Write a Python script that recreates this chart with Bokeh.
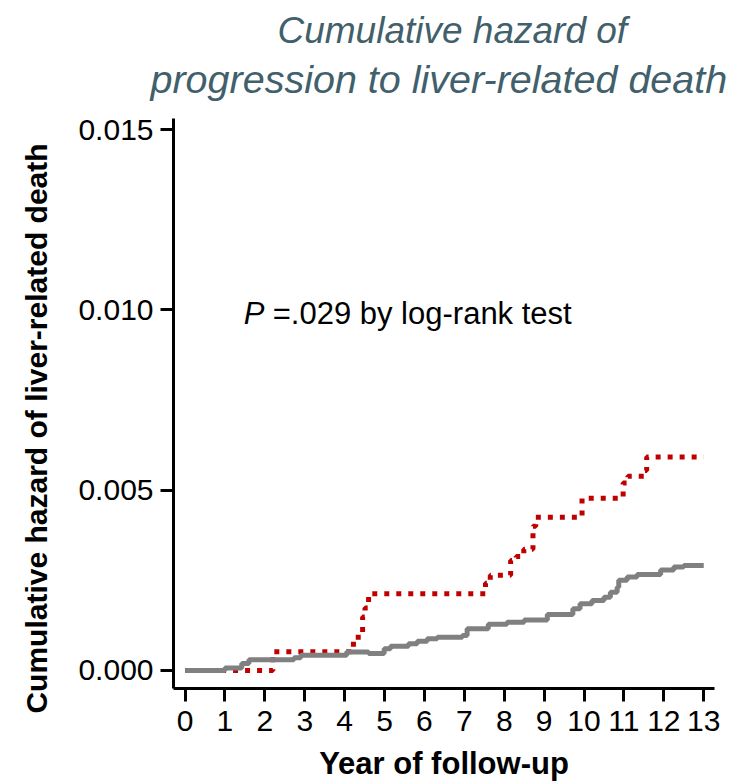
from bokeh.plotting import figure
from bokeh.models import Range1d, Label, FixedTicker, Title
from bokeh.embed import file_html
from bokeh.resources import INLINE

# ---- data ----
years_ticks = list(range(0, 14))
haz_ticks = [0.0, 0.005, 0.010, 0.015]

# grey group (step starts, value after step)
grey_t = [0.0, 1.0, 1.42, 1.6, 2.73, 2.9, 4.05, 4.6, 4.99, 5.15, 5.6, 5.82, 6.07, 6.32,
          6.95, 7.07, 7.6, 8.07, 8.5, 9.08, 9.72, 9.9, 10.2, 10.5, 10.66, 10.83, 10.87,
          11.08, 11.33, 11.92, 12.25, 12.5, 13.0]
grey_v = [0.0, 0.00007, 0.00019, 0.0003, 0.00035, 0.00042, 0.00051, 0.00047, 0.0006,
          0.00067, 0.00074, 0.00081, 0.00088, 0.00092, 0.00097, 0.00116, 0.00128,
          0.00134, 0.0014, 0.00155, 0.00171, 0.00185, 0.00194, 0.00203, 0.00217,
          0.00231, 0.0025, 0.00259, 0.00266, 0.00279, 0.00287, 0.00291, 0.00291]

# red group
red_t = [0.0, 2.2, 4.22, 4.34, 4.45, 4.51, 4.6, 7.53, 7.65, 8.16, 8.3, 8.49, 8.72, 8.79,
         9.95, 10.98, 11.1, 11.5, 11.57, 13.0]
red_v = [0.0, 0.00052, 0.00081, 0.00104, 0.00148, 0.00173, 0.00213, 0.00242, 0.00264,
         0.00305, 0.00316, 0.00336, 0.0040, 0.00425, 0.00478, 0.0052, 0.00539, 0.00555,
         0.00592, 0.00592]

title_1 = "Cumulative hazard of"
title_2 = "progression to liver-related death"
x_title = "Year of follow-up"
y_title = "Cumulative hazard of liver-related death"
p_italic = "P"
p_rest = "=.029 by log-rank test"

FONT = "Liberation Sans"
title_color = "#41606b"

p = figure(width=740, height=783, output_backend="svg", toolbar_location=None,
           x_range=Range1d(-0.29, 13.27), y_range=Range1d(-0.0005, 0.01531),
           min_border_left=173, min_border_right=26, min_border_top=118,
           min_border_bottom=95)
p.outline_line_color = None
p.grid.visible = False
p.background_fill_color = "white"
p.border_fill_color = "white"

# titles: the added Title sits next to the plot, p.title above it
p.title.text = title_1
p.title.align = "left"
p.title.offset = 104
p.title.text_font = FONT
p.title.text_font_style = "italic"
p.title.text_font_size = "37px"
p.title.text_color = title_color
p.title.standoff = -28
p.add_layout(Title(text=title_2, align="left", offset=-23, text_font=FONT,
                   text_font_style="italic", text_font_size="39.5px",
                   text_color=title_color, standoff=36), "above")

p.step(red_t, red_v, mode="after", line_color="#c00000", line_width=5,
       line_dash="5 7")
p.step(grey_t, grey_v, mode="after", line_color="#808080", line_width=5)

for ax in (p.xaxis[0], p.yaxis[0]):
    ax.axis_line_width = 3
    ax.axis_line_color = "black"
    ax.major_tick_line_width = 3
    ax.major_tick_line_color = "black"
    ax.major_tick_in = 0
    ax.major_tick_out = 13
    ax.minor_tick_line_color = None
    ax.major_label_text_font = FONT
    ax.major_label_text_font_size = "30px"
    ax.major_label_text_color = "black"
    ax.axis_label_text_font = FONT
    ax.axis_label_text_font_style = "bold"
    ax.axis_label_text_color = "black"

p.xaxis[0].ticker = FixedTicker(ticks=years_ticks)
p.xaxis[0].major_label_standoff = 9
p.xaxis[0].axis_label = x_title
p.xaxis[0].axis_label_text_font_size = "31px"
p.xaxis[0].axis_label_standoff = 12

p.yaxis[0].ticker = FixedTicker(ticks=haz_ticks)
p.yaxis[0].major_label_overrides = {0.0: "0.000", 0.005: "0.005", 0.01: "0.010", 0.015: "0.015"}
p.yaxis[0].major_label_standoff = 7
# trailing no-break spaces move the visible label down along the axis
p.yaxis[0].axis_label = y_title + "\u00a0" * 6
p.yaxis[0].axis_label_text_font_size = "30px"
p.yaxis[0].axis_label_standoff = 22

p.add_layout(Label(x=1.47, y=0.00991, text=p_italic, text_align="left",
                   text_baseline="alphabetic", text_font=FONT, text_font_style="italic",
                   text_font_size="31px", text_color="black"))
p.add_layout(Label(x=1.47, y=0.00991, x_offset=29, text=p_rest, text_align="left",
                   text_baseline="alphabetic", text_font=FONT,
                   text_font_size="31px", text_color="black"))

open("out.html", "w").write(file_html(p, INLINE))
